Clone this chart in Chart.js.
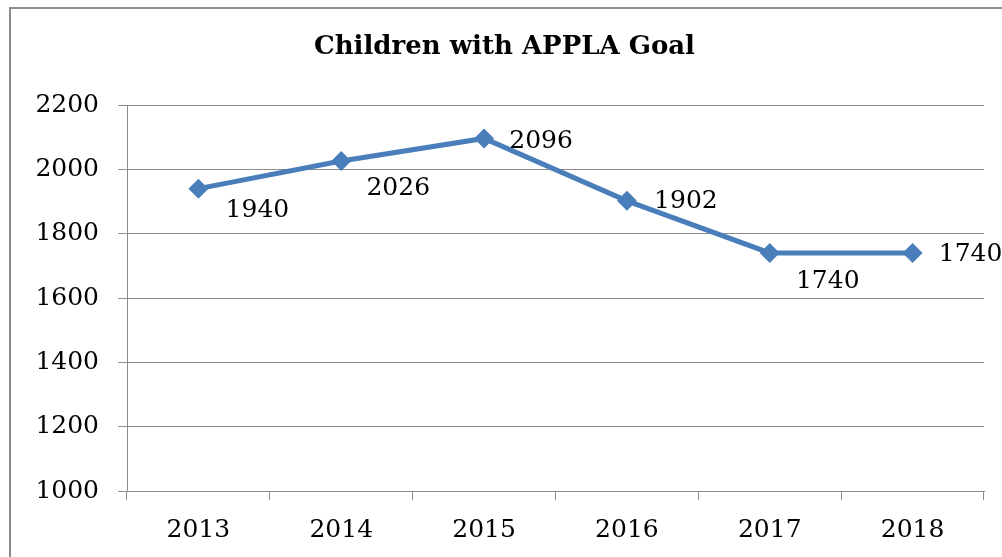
<!DOCTYPE html>
<html>
<head>
<meta charset="utf-8">
<script src="https://cdn.jsdelivr.net/npm/chart.js@4"></script>
<style>
  html, body { margin: 0; padding: 0; background: #fff; overflow: hidden; }
  canvas { display: block; }
</style>
</head>
<body>
<canvas id="myCanvas" width="1002" height="557"></canvas>
<script>
const years = ['2013', '2014', '2015', '2016', '2017', '2018'];
const children = [1940, 2026, 2096, 1902, 1740, 1740];
const yTicks = [1000, 1200, 1400, 1600, 1800, 2000, 2200];

// where each value label sits, relative to its point (px)
const labelOffsets = [[59, 22], [57, 28], [57, 3], [59, 1], [58, 29], [58, 2]];

const serif = 'DejaVu Serif';
const gray = '#8c8c8c';

// the chart frame: only its top and left edges fall inside the picture
const outerBorder = {
    id: 'outerBorder',
    beforeDraw(chart) {
        const ctx = chart.ctx;
        ctx.save();
        ctx.fillStyle = '#fff';
        ctx.fillRect(0, 0, chart.width, chart.height);
        ctx.strokeStyle = gray;
        ctx.lineWidth = 2;
        ctx.beginPath();
        ctx.moveTo(10, chart.height);
        ctx.lineTo(10, 8);
        ctx.lineTo(chart.width, 8);
        ctx.stroke();
        ctx.restore();
    }
};

const valueLabels = {
    id: 'valueLabels',
    afterDatasetsDraw(chart) {
        const ctx = chart.ctx;
        const meta = chart.getDatasetMeta(0);
        ctx.save();
        ctx.font = `25px "${serif}"`;
        ctx.fillStyle = '#000';
        ctx.textAlign = 'center';
        ctx.textBaseline = 'middle';
        meta.data.forEach((pt, i) => {
            const off = labelOffsets[i];
            ctx.fillText(String(children[i]), pt.x + off[0], pt.y + off[1]);
        });
        ctx.restore();
    }
};

new Chart(document.getElementById('myCanvas'), {
    type: 'line',
    data: {
        labels: years,
        datasets: [{
            label: 'Children with APPLA Goal',
            data: children,
            borderColor: '#4a7ebb',
            backgroundColor: '#4a7ebb',
            borderWidth: 5,
            pointStyle: 'rectRot',
            pointRadius: 10,
            pointHoverRadius: 10,
            pointBorderWidth: 0,
            tension: 0,
            clip: false
        }]
    },
    options: {
        responsive: false,
        animation: false,
        layout: { padding: { left: 25, right: 18, top: 0, bottom: 0 } },
        plugins: {
            legend: { display: false },
            tooltip: { enabled: false },
            title: {
                display: true,
                text: 'Children with APPLA Goal',
                color: '#000',
                font: { family: serif, size: 26, weight: 'bold', lineHeight: 1.2 },
                padding: { top: 32, bottom: 41.8 }
            }
        },
        scales: {
            x: {
                offset: true,
                grid: {
                    offset: true,
                    drawOnChartArea: false,
                    drawTicks: true,
                    tickLength: 9,
                    color: gray,
                    lineWidth: 1
                },
                border: { display: true, color: gray, width: 1 },
                ticks: {
                    color: '#000',
                    font: { family: serif, size: 25 },
                    padding: 15,
                    maxRotation: 0
                },
                afterFit(scale) { scale.height = 66; }
            },
            y: {
                min: yTicks[0],
                max: yTicks[yTicks.length - 1],
                afterBuildTicks(scale) { scale.ticks = yTicks.map(v => ({ value: v })); },
                grid: {
                    drawTicks: true,
                    tickLength: 9,
                    color: gray,
                    lineWidth: 1
                },
                border: { display: true, color: gray, width: 1 },
                ticks: {
                    color: '#000',
                    font: { family: serif, size: 25 },
                    padding: 19,
                    callback: v => String(v)
                },
                afterFit(scale) { scale.width = 102; }
            }
        }
    },
    plugins: [outerBorder, valueLabels]
});
</script>
</body>
</html>
